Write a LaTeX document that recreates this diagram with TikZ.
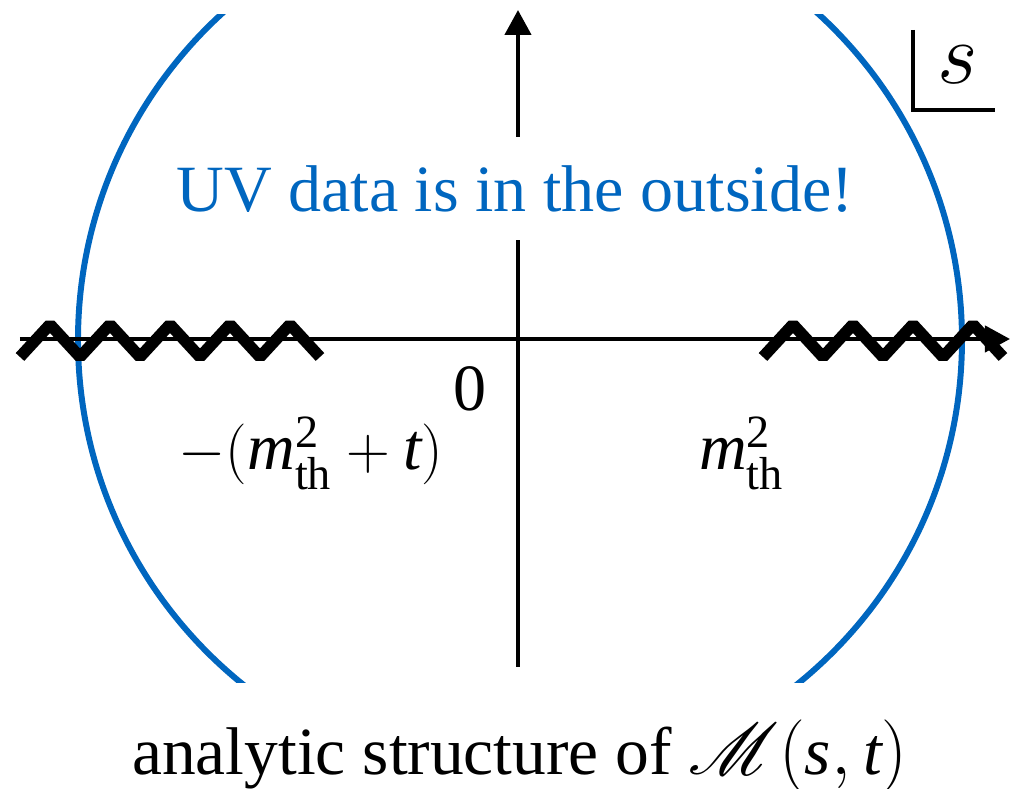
\documentclass[tikz,border=0pt]{standalone}
\usepackage{amsmath}
\usepackage{mathrsfs}
\usepackage{fontspec}
\setmainfont{LiberationSerif-Regular.ttf}[
  ItalicFont=LiberationSerif-Italic.ttf,
  BoldFont=LiberationSerif-Bold.ttf,
  BoldItalicFont=LiberationSerif-BoldItalic.ttf]
\usetikzlibrary{arrows.meta}
\definecolor{uvblue}{HTML}{0066BF}
\tikzset{
  axisline/.style={line width=1.25pt,draw=black},
  axisarr/.style={axisline,-{Triangle[length=2.5mm,width=2.6mm]}},
  cutline/.style={line width=3.3pt,draw=black,line join=bevel},
  contour/.style={line width=1.7pt,draw=uvblue},
  lbl/.style={font=\fontsize{18.8}{22}\selectfont,inner sep=0pt},
  caplbl/.style={font=\fontsize{19.2}{22}\selectfont,inner sep=0pt}
}

\begin{document}
\begin{tikzpicture}[x=1cm,y=1cm]
    \useasboundingbox (-5.18,-4.50) rectangle (4.94,3.39);
    % large contour, cut off at top and bottom
    \begin{scope}
      \clip (-5.18,-3.44) rectangle (4.94,3.24);
      \draw[contour] (0.02,-0.01) circle (4.42);
    \end{scope}
    % axes
    \coordinate (west) at (-4.98,0);
    \coordinate (east) at (4.92,0);
    \coordinate (south) at (0,-3.28);
    \coordinate (gaplow) at (0,0.99);
    \coordinate (gaphigh) at (0,2.02);
    \coordinate (north) at (0,3.29);
    \draw[axisarr] (west) -- (east);
    \draw[axisline] (south) -- (gaplow);
    \draw[axisarr] (gaphigh) -- (north);
    % branch cuts
    \draw[cutline] (-4.98,-0.18)
      \foreach \x in {-4.68,-4.08,-3.48,-2.88,-2.28} {-- (\x,0.145) -- ({\x+0.3},-0.18)};
    \draw[cutline] (2.45,-0.18)
      \foreach \x in {2.75,3.35,3.95,4.55} {-- (\x,0.145) -- ({\x+0.3},-0.18)};
    % labels
    \node[lbl,text=uvblue,anchor=base] (uvtext) at (-0.03,1.27)
      {UV data is in the outside!};
    \node[lbl] (zero) at (-0.48,-0.50) {0};
    \node[lbl,anchor=base] (leftcut) at (-2.07,-1.31)
      {$-(\text{\itshape m}^{\text{2}}_{\text{th}}+\text{\itshape t})$};
    \node[lbl,anchor=base] (rightcut) at (2.24,-1.31)
      {$\text{\itshape m}^{\text{2}}_{\text{th}}$};
    % variable box
    \coordinate (boxtop) at (3.95,3.09);
    \coordinate (boxcorner) at (3.95,2.29);
    \coordinate (boxright) at (4.77,2.29);
    \draw[axisline] (boxtop) -- (boxcorner) -- (boxright);
    \node[font=\fontsize{23}{23}\selectfont,inner sep=0pt] (svar) at (4.40,2.74) {$s$};
    \node[caplbl,anchor=base] (caption) at (0.02,-4.36)
      {analytic structure of $\mathscr{M}(\text{\itshape s},\text{\itshape t})$};
  \end{tikzpicture}
\end{document}
